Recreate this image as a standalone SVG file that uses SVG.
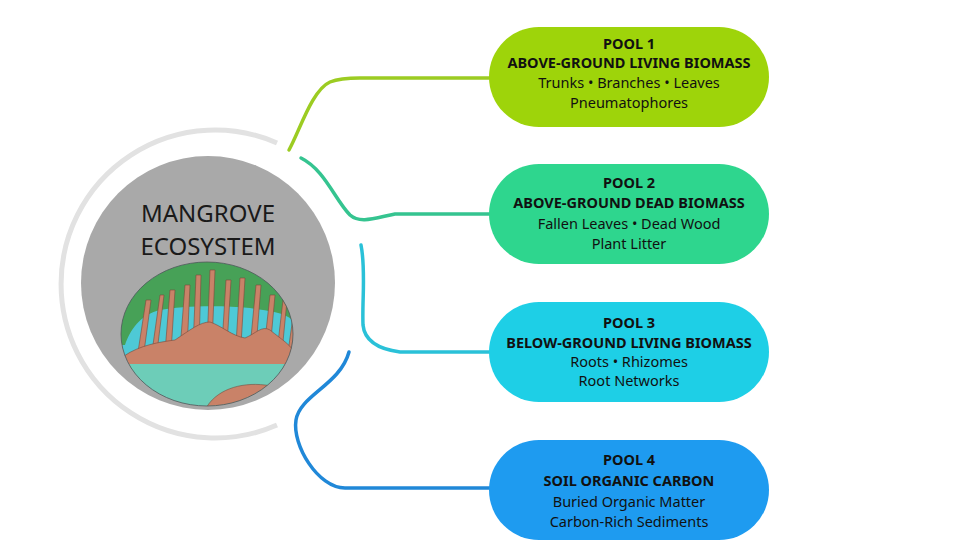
<svg xmlns="http://www.w3.org/2000/svg" width="976" height="553" viewBox="0 0 976 553">
<defs>
<clipPath id="ill"><ellipse cx="207" cy="334" rx="86" ry="72"/></clipPath>
<style>
.t{font-family:"Noto Sans","Liberation Sans",sans-serif;fill:#111;text-anchor:middle;font-size:14.5px}
.b{font-weight:bold}
.c{fill:none;stroke-width:3.5;stroke-linecap:round}
.root{fill:#c98268;stroke:#7a4a3a;stroke-width:0.6}
</style>
</defs>
<rect width="976" height="553" fill="#fff"/>
<g id="center">
<path d="M277,143 A154,154 0 1,0 277,425" fill="none" stroke="#e2e2e2" stroke-width="5"/>
<circle cx="208" cy="283" r="127" fill="#a9a9a9"/>
<text x="208" y="222" class="t" style="font-size:24px;fill:#1a1a1a">MANGROVE</text>
<text x="208" y="255" class="t" style="font-size:24px;fill:#1a1a1a">ECOSYSTEM</text>
<g clip-path="url(#ill)">
<rect x="120" y="260" width="180" height="150" fill="#4ec9d6"/>
<path d="M118,262 H300 V330 C290,310 270,312 250,308 C220,305 180,306 160,310 C140,315 130,330 125,345 L118,345Z" fill="#47a157"/>
<g class="root">
<path d="M138,352 L146,300 L151,300 L144,352Z"/><path d="M152,352 L160,295 L164,295 L157,352Z"/>
<path d="M165,352 L170,290 L175,290 L171,352Z"/><path d="M180,350 L185,285 L190,285 L187,350Z"/>
<path d="M193,348 L196,275 L201,275 L199,348Z"/><path d="M207,345 L210,270 L215,270 L212,345Z"/>
<path d="M222,345 L226,280 L231,280 L227,345Z"/><path d="M236,345 L240,278 L245,278 L241,345Z"/>
<path d="M250,348 L256,285 L261,285 L256,348Z"/><path d="M264,350 L270,295 L275,295 L270,350Z"/>
<path d="M277,352 L283,300 L287,300 L282,352Z"/><path d="M288,352 L294,310 L297,310 L292,352Z"/>
<path d="M124,356 C140,345 160,342 175,340 C190,330 200,322 210,322 C222,326 232,336 245,338 C255,334 262,325 270,330 C282,340 292,345 296,356 L296,368 L124,368Z"/>
</g>
<rect x="118" y="364" width="182" height="50" fill="#6dcdb8"/>
<path d="M205,410 C215,390 240,382 265,385 L300,390 V410Z" fill="#c98268" stroke="#7a4a3a" stroke-width="0.6"/>
</g>
<ellipse cx="207" cy="334" rx="86" ry="72" fill="none" stroke="#555" stroke-width="0.8"/>
</g>
<g id="connectors">
<path class="c" stroke="#9ccc22" d="M289,150 C300,130 312,90 330,82 C340,78 350,78 360,78 H492"/>
<path class="c" stroke="#35c490" d="M301,158 C325,170 335,200 350,215 C360,224 375,218 395,214 H492"/>
<path class="c" stroke="#2ac1d8" d="M361,245 C366,270 362,300 363,325 C365,345 385,350 400,352 H492"/>
<path class="c" stroke="#2088d8" d="M349,352 C340,385 300,395 296,420 C292,445 318,488 345,488 H492"/>
</g>
<g id="pool1"><rect x="489" y="27" width="280" height="100" rx="50" fill="#9ed40a"/>
<text x="629" y="49" class="t b">POOL 1</text><text x="629" y="68" class="t b">ABOVE-GROUND LIVING BIOMASS</text>
<text x="629" y="88" class="t">Trunks • Branches • Leaves</text><text x="629" y="108" class="t">Pneumatophores</text></g>
<g id="pool2"><rect x="489" y="164" width="280" height="100" rx="50" fill="#2ed68e"/>
<text x="629" y="188" class="t b">POOL 2</text><text x="629" y="208" class="t b">ABOVE-GROUND DEAD BIOMASS</text>
<text x="629" y="229" class="t">Fallen Leaves • Dead Wood</text><text x="629" y="249" class="t">Plant Litter</text></g>
<g id="pool3"><rect x="489" y="302" width="280" height="100" rx="50" fill="#1ecfe6"/>
<text x="629" y="328" class="t b">POOL 3</text><text x="629" y="348" class="t b">BELOW-GROUND LIVING BIOMASS</text>
<text x="629" y="367" class="t">Roots • Rhizomes</text><text x="629" y="386" class="t">Root Networks</text></g>
<g id="pool4"><rect x="489" y="440" width="280" height="100" rx="50" fill="#1e9bf0"/>
<text x="629" y="465" class="t b">POOL 4</text><text x="629" y="486" class="t b">SOIL ORGANIC CARBON</text>
<text x="629" y="507" class="t">Buried Organic Matter</text><text x="629" y="527" class="t">Carbon-Rich Sediments</text></g>
</svg>
